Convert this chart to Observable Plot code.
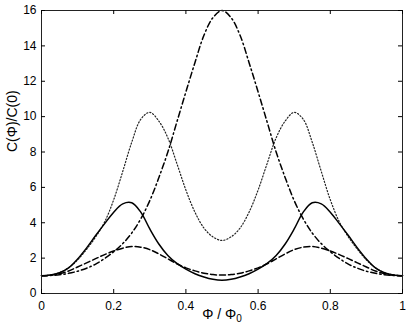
<!DOCTYPE html>
<html><head><meta charset="utf-8">
<script src="https://cdn.jsdelivr.net/npm/d3@7"></script>
<script src="https://cdn.jsdelivr.net/npm/@observablehq/plot@0.6"></script>
<style>body{margin:0;background:#fff}</style>
</head><body><div id="chart"></div>
<script>
const xValues = [0,0.025,0.05,0.075,0.1,0.125,0.15,0.175,0.2,0.225,0.25,0.275,0.3,0.325,0.35,0.375,0.4,0.425,0.45,0.475,0.5,
  0.525,0.55,0.575,0.6,0.625,0.65,0.675,0.7,0.725,0.75,0.775,0.8,0.825,0.85,0.875,0.9,0.925,0.95,0.975,1];
const solid = [1.00,1.04,1.17,1.45,1.95,2.58,3.28,3.95,4.60,5.07,5.13,4.60,3.65,2.80,2.15,1.70,1.38,1.12,0.93,0.80,0.75,
  0.80,0.93,1.12,1.38,1.70,2.15,2.80,3.65,4.60,5.13,5.07,4.60,3.95,3.28,2.58,1.95,1.45,1.17,1.04,1.00];
const dashed = [1.00,1.03,1.12,1.27,1.50,1.73,1.97,2.20,2.40,2.56,2.66,2.62,2.48,2.24,1.96,1.68,1.45,1.28,1.15,1.07,1.04,
  1.07,1.15,1.28,1.45,1.68,1.96,2.24,2.48,2.62,2.66,2.56,2.40,2.20,1.97,1.73,1.50,1.27,1.12,1.03,1.00];
const dashDot = [1.00,1.02,1.06,1.14,1.26,1.43,1.66,1.98,2.36,2.82,3.42,4.22,5.25,6.55,8.00,9.70,11.40,13.05,14.60,15.60,16.00,
  15.60,14.60,13.05,11.40,9.70,8.00,6.55,5.25,4.22,3.42,2.82,2.36,1.98,1.66,1.43,1.26,1.14,1.06,1.02,1.00];
const dotted = [1.00,1.05,1.18,1.45,1.90,2.50,3.20,4.05,5.30,6.90,8.55,9.85,10.24,9.75,8.80,7.35,5.85,4.60,3.70,3.20,3.00,
  3.20,3.70,4.60,5.85,7.35,8.80,9.75,10.24,9.85,8.55,6.90,5.30,4.05,3.20,2.50,1.90,1.45,1.18,1.05,1.00];
const xTicks = [0,0.2,0.4,0.6,0.8,1];
const yTicks = [0,2,4,6,8,10,12,14,16];
const yLabel = "C(Φ)/C(0)";
const xLabel = "Φ / Φ0";

const W = 409, H = 334, mL = 41, mR = 7, mT = 10, mB = 41;
const innerW = W - mL - mR, innerH = H - mT - mB;
const series = ys => xValues.map((x, i) => ({x, y: ys[i]}));

const plot = Plot.plot({
  width: W, height: H, marginLeft: mL, marginRight: mR, marginTop: mT, marginBottom: mB,
  style: {fontFamily: "'Liberation Sans', Arial, sans-serif", fontSize: "12px", background: "#fff", color: "#000", overflow: "visible"},
  x: {domain: [0, 1]},
  y: {domain: [0, 16]},
  marks: [
    Plot.line(series(dotted), {x: "x", y: "y", stroke: "#222", strokeWidth: 1.2, strokeDasharray: "1.2,2", curve: "catmull-rom"}),
    Plot.line(series(dashDot), {x: "x", y: "y", stroke: "#000", strokeWidth: 1.5, strokeDasharray: "6,3,1.5,3", curve: "catmull-rom"}),
    Plot.line(series(dashed), {x: "x", y: "y", stroke: "#000", strokeWidth: 1.5, strokeDasharray: "6,3", curve: "catmull-rom"}),
    Plot.line(series(solid), {x: "x", y: "y", stroke: "#000", strokeWidth: 1.5, curve: "catmull-rom"}),
    Plot.frame({stroke: "#222"}),
    Plot.tickX(xTicks, {x: d => d, insetTop: innerH - 4}),
    Plot.tickX(xTicks, {x: d => d, insetBottom: innerH - 4}),
    Plot.tickY(yTicks, {y: d => d, insetRight: innerW - 4}),
    Plot.tickY(yTicks, {y: d => d, insetLeft: innerW - 4}),
    Plot.axisX(xTicks, {tickSize: 0, tickPadding: 7.5, label: null, tickFormat: d => String(d)}),
    Plot.axisY(yTicks, {tickSize: 0, tickPadding: 5, label: null, tickFormat: d => String(d)}),
    Plot.text([yLabel], {frameAnchor: "left", dx: -29, rotate: -90, text: d => d, fontSize: 14}),
    Plot.text([xLabel], {frameAnchor: "bottom", dy: 25, text: d => d, fontSize: 14})
  ]
});

d3.select(plot).selectAll("text").filter(function() { return this.textContent === xLabel; }).each(function() {
  const t = d3.select(this);
  t.text(null);
  t.append("tspan").text("Φ / Φ");
  t.append("tspan").attr("dy", "0.35em").attr("font-size", "10px").text("0");
});

document.getElementById("chart").appendChild(plot);
</script>
</body></html>
